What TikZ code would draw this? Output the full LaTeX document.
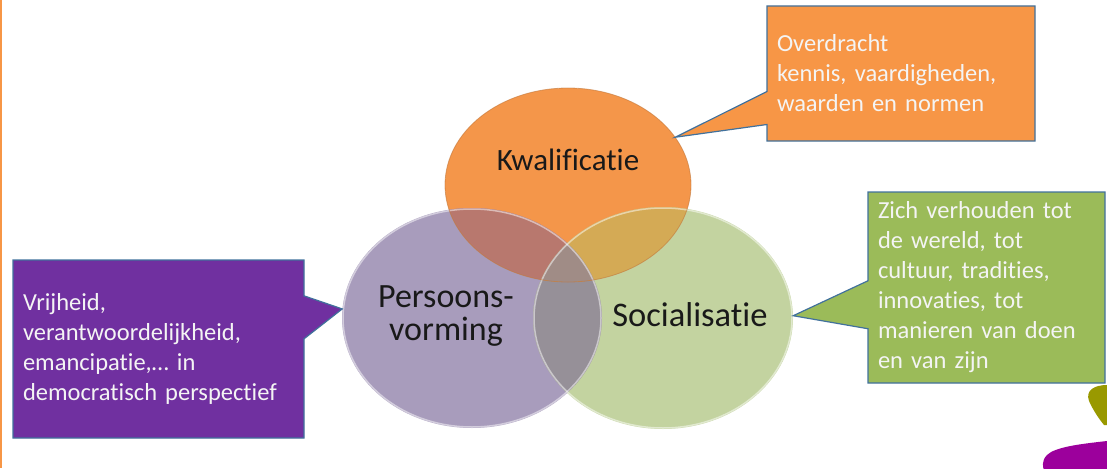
\documentclass[tikz,border=0pt]{standalone}
\usepackage{fontspec}
\setmainfont{Carlito}[Ligatures=NoCommon]
\usetikzlibrary{shapes.geometric,shapes.callouts}
\definecolor{oranje}{HTML}{F79646}
\definecolor{paars}{HTML}{7030A0}
\definecolor{groen}{HTML}{9BBB59}
\definecolor{rand}{HTML}{41719C}
\definecolor{tekst}{HTML}{F4F4F4}
\definecolor{ck}{HTML}{F4964A}
\definecolor{cp}{HTML}{A89CBC}
\definecolor{cs}{HTML}{C3D3A0}
\definecolor{ckp}{HTML}{B8786E}
\definecolor{cks}{HTML}{D4AA55}
\definecolor{cps}{HTML}{969098}
\definecolor{ckps}{HTML}{A08C86}
\definecolor{olijf}{HTML}{999900}
\definecolor{magenta}{HTML}{9C009C}
\begin{document}
\begin{tikzpicture}[x=1pt,y=-1pt,
  cirkel/.style={ellipse,inner sep=0pt,fill=#1},
  ballon/.style={rectangle callout,draw=rand,line width=1.2pt,fill=#1,text=tekst,align=left,inner xsep=10pt,font=\fontsize{24.5}{30}\selectfont},
  woord/.style={text=black!90,align=center,font=\fontsize{#1}{33}\selectfont}]
\useasboundingbox (0,0) rectangle (1107,468);
\fill[oranje] (0,0) rectangle (2,468);
\node[cirkel=ck,minimum width=246pt,minimum height=194pt] (kwal) at (568,185) {};
\node[cirkel=cp,minimum width=260pt,minimum height=220pt] (pers) at (472,318) {};
\node[cirkel=cs,minimum width=260pt,minimum height=222pt] (soc) at (663,318) {};
\begin{scope}
\clip (pers.center) ellipse [x radius=130,y radius=110];
\fill[cps] (soc.center) ellipse [x radius=130,y radius=111];
\end{scope}
\begin{scope}
\clip (kwal.center) ellipse [x radius=123,y radius=97];
\fill[ckp] (pers.center) ellipse [x radius=130,y radius=110];
\fill[cks] (soc.center) ellipse [x radius=130,y radius=111];
\clip (pers.center) ellipse [x radius=130,y radius=110];
\fill[ckps] (soc.center) ellipse [x radius=130,y radius=111];
\end{scope}
\draw[white,opacity=0.5,line width=1.5pt] (pers.center) ellipse [x radius=129,y radius=109];
\draw[white,opacity=0.5,line width=1.5pt] (soc.center) ellipse [x radius=129,y radius=110];
\draw[ck!80!black,opacity=0.6,line width=0.8pt] (kwal.center) ellipse [x radius=123,y radius=97];
\node[woord=31] (kwaltekst) at ([yshift=25pt]kwal.center) {Kwalificatie};
\node[woord=34] (perstekst) at ([xshift=-26pt,yshift=2pt]pers.center) {Persoons-\\vorming};
\node[woord=34.5] (soctekst) at ([xshift=27pt,yshift=3pt]soc.center) {Socialisatie};
\node[ballon=oranje,minimum height=135pt,text width=248pt,callout pointer width=33pt,callout absolute pointer={(kwal.24)}] (overdracht) at (901,73.5) {Overdracht\\kennis, vaardigheden,\\waarden en normen};
\node[ballon=paars,minimum height=178pt,text width=271pt,callout pointer width=43pt,callout absolute pointer={(pers.176)}] (vrijheid) at (158.5,349) {Vrijheid,\\verantwoordelijkheid,\\emancipatie,\dots\ in\\democratisch perspectief};
\node[ballon=groen,minimum height=191pt,text width=217pt,callout pointer width=48pt,callout absolute pointer={(soc.1)}] (wereld) at (986.5,287.5) {Zich verhouden tot\\de wereld, tot\\cultuur, tradities,\\innovaties, tot\\manieren van doen\\en van zijn};
\begin{scope}
\clip (0,0) rectangle (1107,468);
\fill[olijf] (1107,385) .. controls (1095,385) and (1085,390) .. (1089,401) .. controls (1093,410) and (1099,419) .. (1104,425) -- (1107,425) -- cycle;
\fill[magenta] (1107,441) .. controls (1080,444) and (1055,447) .. (1047,455) .. controls (1041,461) and (1043,468) .. (1044,470) -- (1107,470) -- cycle;
\end{scope}
\end{tikzpicture}
\end{document}
